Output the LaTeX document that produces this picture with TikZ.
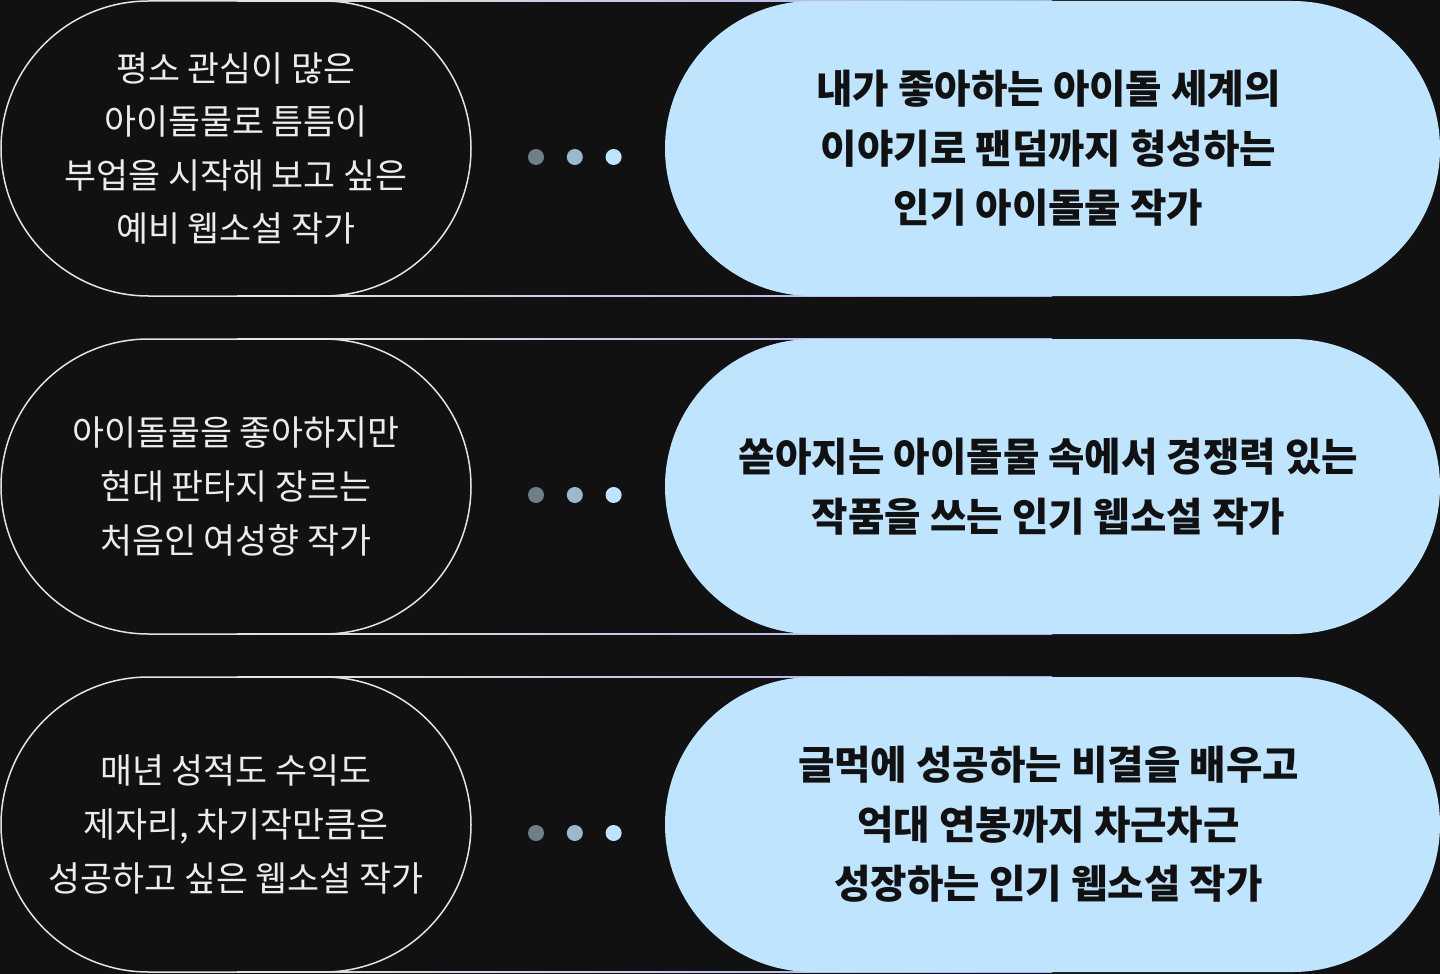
\documentclass[tikz,border=0pt]{standalone}
\usepackage{fontspec}
\usepackage{xcolor}
\usetikzlibrary{%
  shapes.misc,
  positioning,
  calc}
\newfontfamily\krfont{Noto Sans CJK KR}
\definecolor{bgdark}{HTML}{111111}
\definecolor{pillline}{HTML}{E4E4DE}
\definecolor{lefttext}{HTML}{ECECEC}
\definecolor{skyfill}{HTML}{BEE5FD}
\definecolor{righttext}{HTML}{111111}
\definecolor{lineleft}{HTML}{E8E6DC}
\definecolor{lineright}{HTML}{A3AAF0}
\definecolor{dotone}{HTML}{6E7F89}
\definecolor{dottwo}{HTML}{9BB9CC}
\definecolor{dotthree}{HTML}{BEE5FD}
\tikzset{
  %% Left outlined pills
  leftpill/.style={
    rounded rectangle, draw=pillline, line width=0.75pt,
    minimum width=235pt, minimum height=147.5pt, inner sep=0pt,
    text=lefttext, align=center,
    font=\krfont\fontsize{17.4}{26.8}\selectfont},
  %% Right filled pills
  rightpill/.style={
    rounded rectangle, fill=skyfill,
    minimum width=387.5pt, minimum height=147.5pt, inner sep=0pt,
    text=righttext, align=center,
    font=\krfont\bfseries\fontsize{19.8}{29.8}\selectfont},
  %% Dots between the pills
  dotnode/.style={circle, inner sep=0pt, minimum size=8pt},
  %% Gradient rails
  rail/.style={left color=lineleft, right color=lineright},
}

\begin{document}
\begin{tikzpicture}[x=0.5pt, y=-0.5pt]

  \fill[bgdark] (0,0) rectangle (1440,974);
  \useasboundingbox (0,0) rectangle (1440,974);

  %% Row 1
  \shade[rail] (237,0.2) rectangle (1052,1.9);
  \shade[rail] (237,295) rectangle (1052,296.7);
  \node[leftpill]  (l1) at (236,148.5)  {평소 관심이 많은\\ 아이돌물로 틈틈이\\ 부업을 시작해 보고 싶은\\ 예비 웹소설 작가};
  \node[rightpill] (r1) at (1052.5,148.5) {\hspace*{-4pt}내가 좋아하는 아이돌 세계의\\ \hspace*{-4pt}이야기로 팬덤까지 형성하는\\ \hspace*{-4pt}인기 아이돌물 작가};
  \node[dotnode, fill=dotone] (d1a) at (536,157) {};
  \node[dotnode, fill=dottwo, right=11pt of d1a] (d1b) {};
  \node[dotnode, fill=dotthree, right=11pt of d1b] (d1c) {};

  %% Row 2
  \shade[rail] (237,338.2) rectangle (1052,339.9);
  \shade[rail] (237,633) rectangle (1052,634.7);
  \node[leftpill]  (l2) at (236,486.5)  {아이돌물을 좋아하지만\\ 현대 판타지 장르는\\ 처음인 여성향 작가};
  \node[rightpill] (r2) at (1052.5,486.5) {\hspace*{-4pt}쏟아지는 아이돌물 속에서 경쟁력 있는\\ \hspace*{-4pt}작품을 쓰는 인기 웹소설 작가};
  \node[dotnode, fill=dotone] (d2a) at (536,495) {};
  \node[dotnode, fill=dottwo, right=11pt of d2a] (d2b) {};
  \node[dotnode, fill=dotthree, right=11pt of d2b] (d2c) {};

  %% Row 3
  \shade[rail] (237,676.2) rectangle (1052,677.9);
  \shade[rail] (237,971) rectangle (1052,972.7);
  \node[leftpill]  (l3) at (236,824.5)  {매년 성적도 수익도\\ 제자리, 차기작만큼은\\ 성공하고 싶은 웹소설 작가};
  \node[rightpill] (r3) at (1052.5,824.5) {\hspace*{-4pt}글먹에 성공하는 비결을 배우고\\ \hspace*{-4pt}억대 연봉까지 차근차근\\ \hspace*{-4pt}성장하는 인기 웹소설 작가};
  \node[dotnode, fill=dotone] (d3a) at (536,833) {};
  \node[dotnode, fill=dottwo, right=11pt of d3a] (d3b) {};
  \node[dotnode, fill=dotthree, right=11pt of d3b] (d3c) {};

\end{tikzpicture}
\end{document}
